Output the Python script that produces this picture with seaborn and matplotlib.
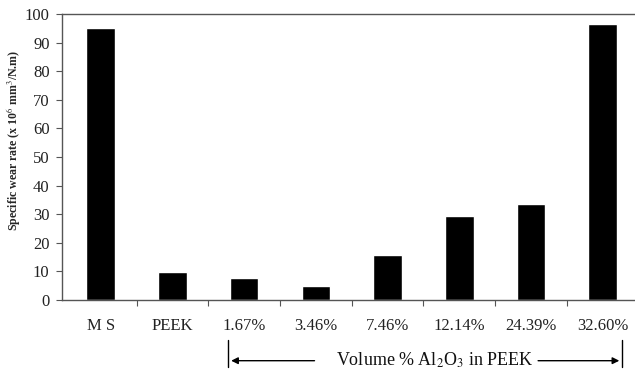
import matplotlib
matplotlib.use("Agg")
import matplotlib.pyplot as plt
import matplotlib.transforms as mtransforms
import seaborn as sns
import numpy as np

categories = ["M S", "PEEK", "1.67%", "3.46%", "7.46%", "12.14%", "24.39%", "32.60%"]
wear_rate = [95.0, 9.8, 7.8, 5.0, 15.6, 29.5, 33.5, 96.5]
y_ticks = [0, 10, 20, 30, 40, 50, 60, 70, 80, 90, 100]

sns.set_style("ticks")
plt.rcParams['font.family'] = ['Liberation Serif', 'DejaVu Serif']
plt.rcParams['mathtext.fontset'] = 'stix'

fig = plt.figure(figsize=(6.35, 3.71), dpi=100)
ax = fig.add_axes([62/635, 71/371, (635-62)/635, (300-14)/371])

sns.barplot(x=categories, y=wear_rate, color="black", width=0.40, saturation=1, ax=ax)

ax.set_xlim(-0.54, 7.45)
ax.set_ylim(0, 100)
ax.set_yticks(y_ticks)
ax.tick_params(axis='y', labelsize=12, colors='#555555', length=4, width=0.8, pad=5,
               labelcolor='#222222')
ax.tick_params(axis='x', which='major', length=0, labelsize=12, pad=13, labelcolor='#222222')
ax.set_xticks(np.arange(0.5, 7.0, 1.0), minor=True)
ax.tick_params(axis='x', which='minor', length=4, width=0.8, colors='#555555', direction='out')

for s in ['left', 'bottom', 'top']:
    ax.spines[s].set_color('#555555')
    ax.spines[s].set_linewidth(1.0)
ax.spines['right'].set_visible(False)

ax.set_xlabel("")
ax.set_ylabel(r"Specific wear rate (x 10$^{6}$ mm$^{3}$/N.m)", fontsize=8.6, fontweight='bold')
ax.yaxis.set_label_coords(-0.07, 0.56)

trans = mtransforms.blended_transform_factory(ax.transData, fig.transFigure)
x_left, x_right = 1.78, 7.27
y_top, y_bot, y_arr = 1 - 340/371, 1 - 367/371, 1 - 360.7/371
for xv in (x_left, x_right):
    ax.plot([xv, xv], [y_bot, y_top], color='black', lw=1.0, transform=trans, clip_on=False)
ax.annotate("", xy=(x_left, y_arr), xytext=(3.02, y_arr), xycoords=trans, textcoords=trans,
            arrowprops=dict(arrowstyle='-|>', color='black', lw=1.0, mutation_scale=10))
ax.annotate("", xy=(x_right, y_arr), xytext=(6.06, y_arr), xycoords=trans, textcoords=trans,
            arrowprops=dict(arrowstyle='-|>', color='black', lw=1.0, mutation_scale=10))
ax.text(4.66, y_arr, r"Volume % Al$_{2}$O$_{3}$ in PEEK", transform=trans, ha='center', va='center',
        fontsize=13, color='#111111')

fig.savefig("out.png", dpi=100)
